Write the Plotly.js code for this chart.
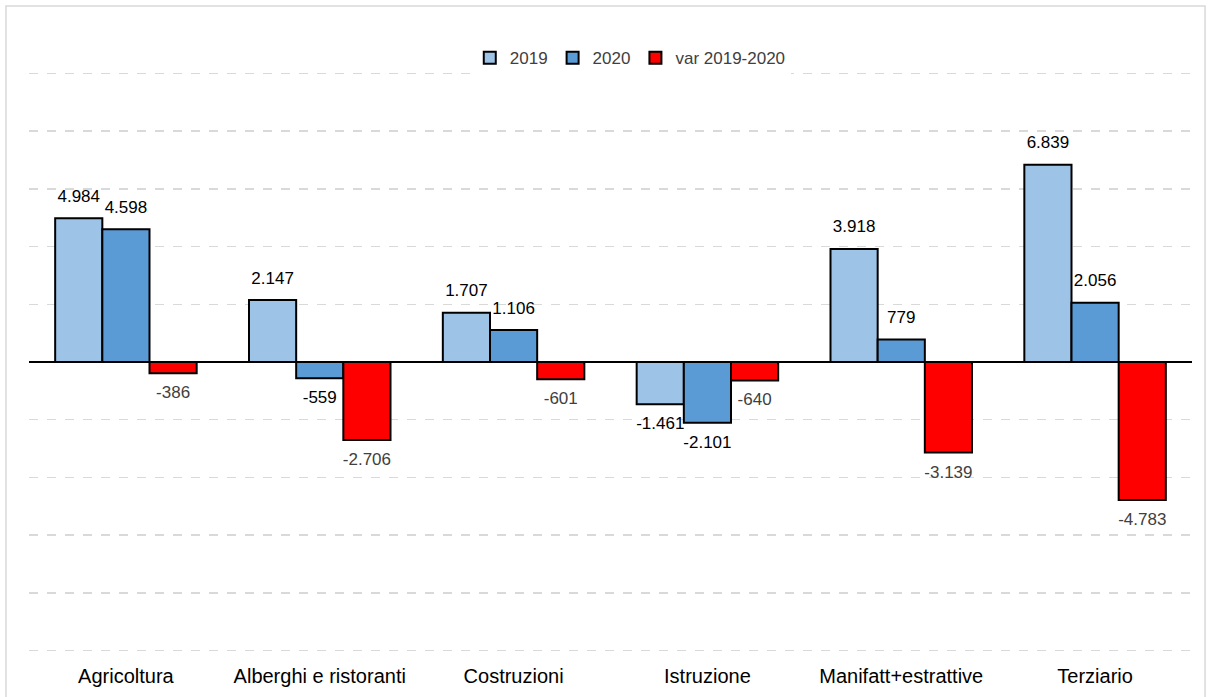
<!DOCTYPE html>
<html>
<head>
<meta charset="utf-8">
<script src="https://cdn.plot.ly/plotly-3.0.1.min.js"></script>
<style>
html,body{margin:0;padding:0;background:#fff;}
#chart{width:1209px;height:697px;}
</style>
</head>
<body>
<div id="chart"></div>
<script>
var categories = ["Agricoltura", "Alberghi e ristoranti", "Costruzioni", "Istruzione", "Manifatt+estrattive", "Terziario"];
var values2019 = [4984, 2147, 1707, -1461, 3918, 6839];
var values2020 = [4598, -559, 1106, -2101, 779, 2056];
var valuesVar = [-386, -2706, -601, -640, -3139, -4783];
var seriesNames = ["2019", "2020", "var 2019-2020"];

var FONT = "Liberation Sans, Arial, sans-serif";

function fmt(v) {
  var s = Math.abs(v).toString().replace(/\B(?=(\d{3})+(?!\d))/g, ".");
  return (v < 0 ? "-" : "") + s;
}

function barTrace(name, vals, color) {
  return {
    type: "bar",
    name: name,
    x: categories,
    y: vals,
    hoverinfo: "x+y",
    marker: {color: color, line: {color: "#000000", width: 2}}
  };
}

function labelTrace(name, vals, textColor) {
  return {
    type: "scatter",
    mode: "markers+text",
    name: name + " label",
    showlegend: false,
    x: categories,
    y: vals,
    text: vals.map(fmt),
    textposition: vals.map(function (v) { return v < 0 ? "bottom center" : "top center"; }),
    textfont: {family: FONT, size: 17, color: textColor},
    marker: {size: 18, opacity: 0},
    cliponaxis: false,
    hoverinfo: "skip"
  };
}

var data = [
  barTrace(seriesNames[0], values2019, "#9DC3E6"),
  barTrace(seriesNames[1], values2020, "#5B9BD5"),
  barTrace(seriesNames[2], valuesVar, "#FF0000"),
  labelTrace(seriesNames[0], values2019, "#000000"),
  labelTrace(seriesNames[1], values2020, "#000000"),
  labelTrace(seriesNames[2], valuesVar, "#404040")
];

var layout = {
  width: 1209,
  height: 697,
  margin: {l: 29, r: 17, t: 72, b: 45, pad: 0},
  paper_bgcolor: "#ffffff",
  plot_bgcolor: "#ffffff",
  barmode: "group",
  bargap: 0.27,
  bargroupgap: 0,
  scattermode: "group",
  scattergap: 0.27,
  showlegend: true,
  legend: {
    orientation: "h",
    x: 0.517, xanchor: "center",
    y: 1.024, yanchor: "middle",
    font: {family: FONT, size: 17, color: "#404040"},
    itemwidth: 30,
    traceorder: "normal"
  },
  xaxis: {
    type: "category",
    showgrid: false,
    showline: false,
    ticks: "outside",
    ticklen: 6,
    tickcolor: "rgba(0,0,0,0)",
    tickfont: {family: FONT, size: 20, color: "#000000"},
    automargin: false
  },
  yaxis: {
    range: [-10050, 10050],
    dtick: 2000,
    tick0: 0,
    showticklabels: false,
    ticks: "",
    showgrid: true,
    gridcolor: "#d9d9d9",
    gridwidth: 1.5,
    griddash: "dash",
    zeroline: true,
    zerolinecolor: "#000000",
    zerolinewidth: 2.5,
    showline: false,
    automargin: false
  },
  shapes: [{
    type: "rect",
    xref: "paper", yref: "paper",
    x0: -0.0198, x1: 1.0112,
    y0: -0.09, y1: 1.114,
    line: {color: "#d9d9d9", width: 1.5},
    fillcolor: "rgba(0,0,0,0)",
    layer: "below"
  }]
};

Plotly.newPlot("chart", data, layout, {displayModeBar: false, staticPlot: true});
</script>
</body>
</html>
